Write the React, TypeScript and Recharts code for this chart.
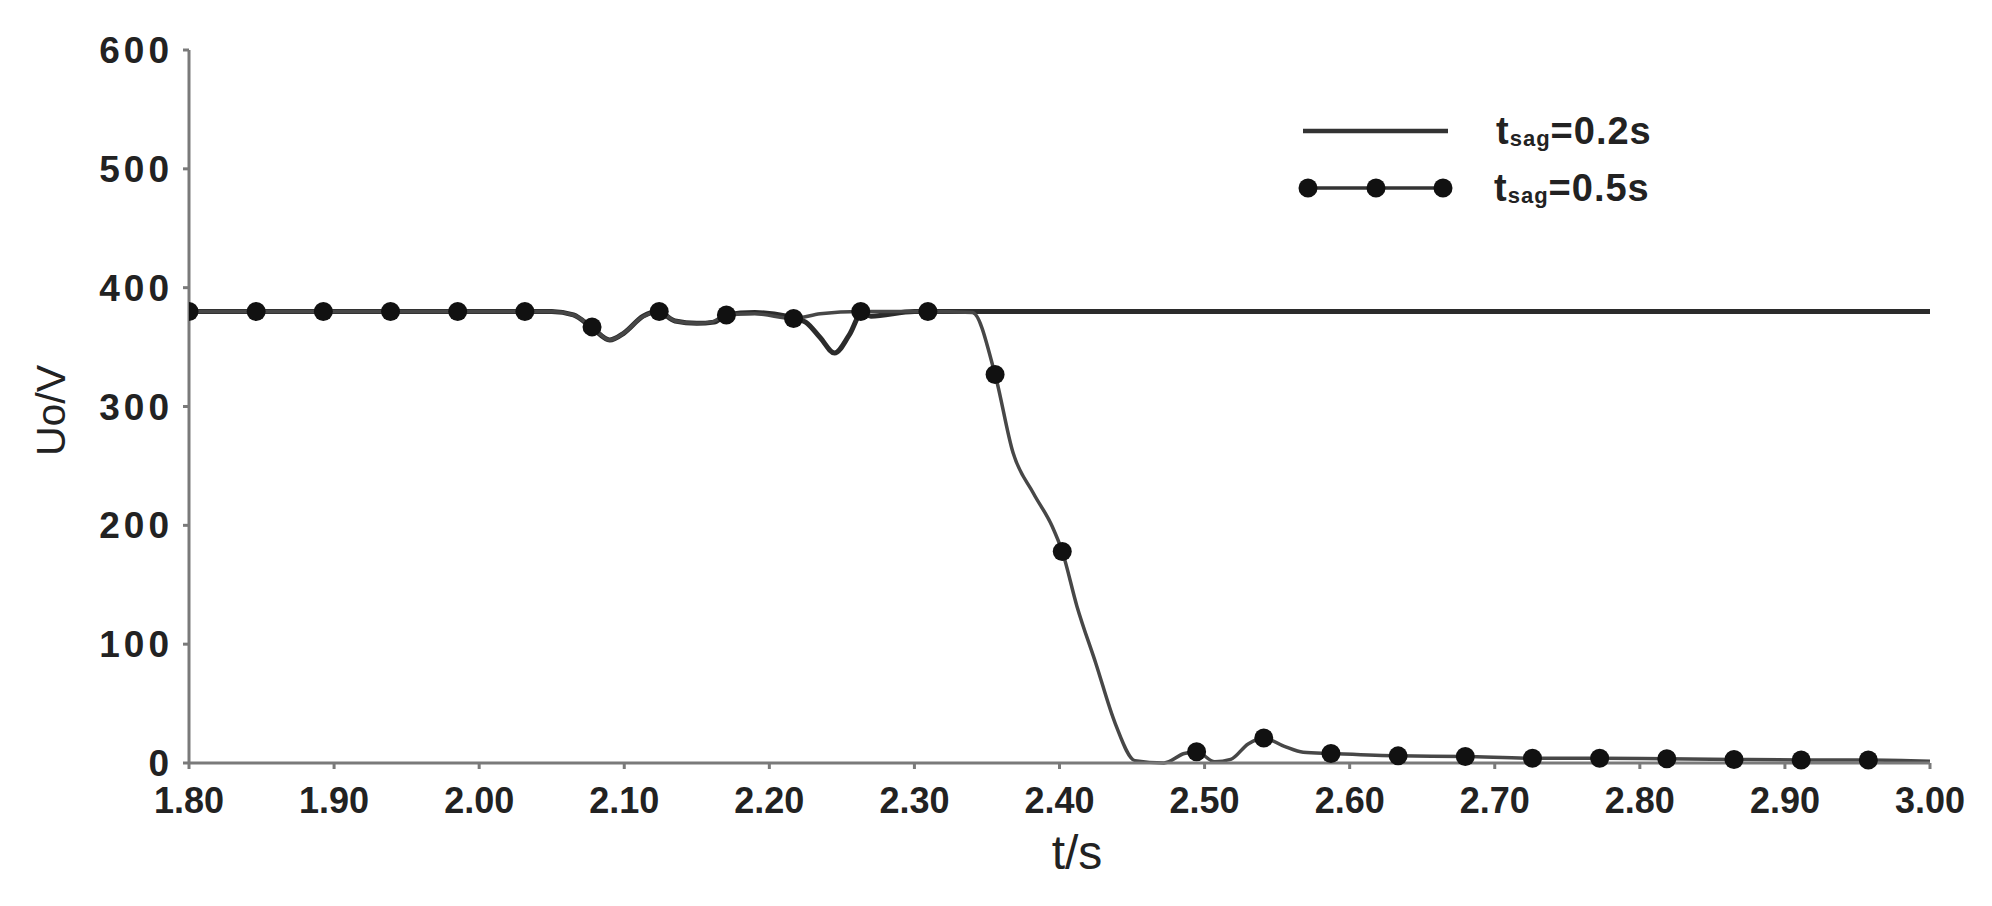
import React from 'react';
import { LineChart, Line, XAxis, YAxis } from 'recharts';

// ---- data ----
const X_TICKS = [1.8, 1.9, 2.0, 2.1, 2.2, 2.3, 2.4, 2.5, 2.6, 2.7, 2.8, 2.9, 3.0];
const Y_TICKS = [0, 100, 200, 300, 400, 500, 600];

const LEGEND_LABELS = ['0.2s', '0.5s'];

// tsag = 0.2 s (plain line)
const SAG02_T = [1.8, 2.05, 2.065, 2.078, 2.09, 2.1, 2.113, 2.123, 2.135, 2.15, 2.162, 2.17, 2.19, 2.212, 2.225, 2.235, 2.245, 2.255, 2.264, 2.27, 2.3, 3.0];
const SAG02_V = [380, 380, 377, 366, 356, 362, 376, 380, 372, 370, 371, 377, 379, 376, 371, 358, 345, 360, 379, 376, 380, 380];

// tsag = 0.5 s (curve)
const SAG05_T = [1.8, 2.05, 2.065, 2.0778, 2.09, 2.1, 2.112, 2.1241, 2.135, 2.15, 2.16, 2.1704, 2.19, 2.2167, 2.235, 2.263, 2.3093, 2.34, 2.3556, 2.368, 2.382, 2.395, 2.4019, 2.412, 2.425, 2.4385, 2.452, 2.472, 2.486, 2.4945, 2.507, 2.518, 2.53, 2.5408, 2.555, 2.568, 2.5871, 2.6334, 2.6797, 2.726, 2.7723, 2.8186, 2.8649, 2.9112, 2.9575, 3.0];
const SAG05_V = [380, 380, 377, 367, 356, 362, 375, 380, 372, 370, 371, 377, 378, 374, 378, 380, 380, 379, 327, 261, 227, 199, 178, 132, 84, 33, 2, 0, 8, 9.5, 1, 3, 16, 21, 14, 9, 8, 6, 5.5, 4, 4, 3.5, 3, 2.5, 2.5, 1.5];

// tsag = 0.5 s markers
const MARK05_T = [1.8, 1.8463, 1.8926, 1.9389, 1.9852, 2.0315, 2.0778, 2.1241, 2.1704, 2.2167, 2.263, 2.3093, 2.3556, 2.4019, 2.4945, 2.5408, 2.5871, 2.6334, 2.6797, 2.726, 2.7723, 2.8186, 2.8649, 2.9112, 2.9575];
const MARK05_V = [380, 380, 380, 380, 380, 380, 367, 380, 377, 374, 380, 380, 327, 178, 9.5, 21, 8, 6, 5.5, 4, 4, 3.5, 3, 2.5, 2.5];

const zip = (ts: number[], vs: number[]) => ts.map((t, i) => ({ t, v: vs[i] }));
const curve02 = zip(SAG02_T, SAG02_V);
const curve05 = zip(SAG05_T, SAG05_V);
const marks05 = zip(MARK05_T, MARK05_V);

const FONT = '"Liberation Sans", Arial, sans-serif';
const TXT = '#222';
const AXIS = '#7a7a7a';

const W = 1992;
const H = 906;

const LegendOverlay = () => (
  <svg width={W} height={H} style={{ position: 'absolute', left: 0, top: 0, pointerEvents: 'none' }}>
    <line x1={1303} y1={131} x2={1448} y2={131} stroke="#333" strokeWidth={4.5} />
    <text x={1496} y={144} fontFamily={FONT} fontSize={38} fontWeight="bold" fill={TXT} letterSpacing={1}>
      t<tspan fontSize={22} dy={2}>sag</tspan><tspan dy={-2}>={LEGEND_LABELS[0]}</tspan>
    </text>
    <line x1={1308} y1={188} x2={1443} y2={188} stroke="#333" strokeWidth={3.5} />
    {[1308, 1376, 1443].map((cx) => (
      <circle key={cx} cx={cx} cy={188} r={9.5} fill="#111" />
    ))}
    <text x={1494} y={201} fontFamily={FONT} fontSize={38} fontWeight="bold" fill={TXT} letterSpacing={1}>
      t<tspan fontSize={22} dy={2}>sag</tspan><tspan dy={-2}>={LEGEND_LABELS[1]}</tspan>
    </text>
  </svg>
);

export default function App() {
  return (
    <div style={{ position: 'absolute', left: 0, top: 0, width: W, height: H, background: '#fff' }}>
      <LineChart
        width={W}
        height={H}
        margin={{ top: 50, right: 62, bottom: 43, left: 39 }}
      >
        <XAxis
          type="number"
          dataKey="t"
          domain={[1.8, 3.0]}
          ticks={X_TICKS}
          allowDataOverflow
          tickFormatter={(v: number) => v.toFixed(2)}
          height={100}
          stroke={AXIS}
          strokeWidth={3}
          tickSize={6}
          tickMargin={18}
          tick={{ fontFamily: FONT, fontSize: 36, fontWeight: 'bold', fill: TXT }}
          label={{
            content: (p: any) => {
              const vb = p.viewBox || {};
              return (
                <text x={1077} y={(vb.y ?? 763) + 106} textAnchor="middle" fontFamily={FONT} fontSize={48} fill={TXT}>
                  t/s
                </text>
              );
            },
          }}
        />
        <YAxis
          type="number"
          domain={[0, 600]}
          ticks={Y_TICKS}
          width={150}
          stroke={AXIS}
          strokeWidth={3}
          tickSize={6}
          tickMargin={10}
          tick={{ fontFamily: FONT, fontSize: 37, fontWeight: 'bold', fill: TXT, letterSpacing: 4 }}
          label={{
            content: (p: any) => {
              const vb = p.viewBox || {};
              const cx = (vb.x ?? 39) + 12;
              const cy = (vb.y ?? 50) + (vb.height ?? 713) / 2 + 4;
              return (
                <text x={cx} y={cy} transform={`rotate(-90 ${cx} ${cy})`} textAnchor="middle" dominantBaseline="central" fontFamily={FONT} fontSize={41} fill={TXT}>
                  Uo/V
                </text>
              );
            },
          }}
        />
        <Line
          data={curve02}
          dataKey="v"
          type="monotone"
          stroke="#2b2b2b"
          strokeWidth={5}
          dot={false}
          isAnimationActive={false}
          name="tsag=0.2s"
        />
        <Line
          data={curve05}
          dataKey="v"
          type="monotone"
          stroke="#474747"
          strokeWidth={3.5}
          dot={false}
          isAnimationActive={false}
          name="tsag=0.5s"
        />
        <Line
          data={marks05}
          dataKey="v"
          stroke="none"
          dot={{ r: 9.5, fill: '#111', stroke: 'none' }}
          isAnimationActive={false}
          legendType="none"
        />
      </LineChart>
      <LegendOverlay />
    </div>
  );
}
